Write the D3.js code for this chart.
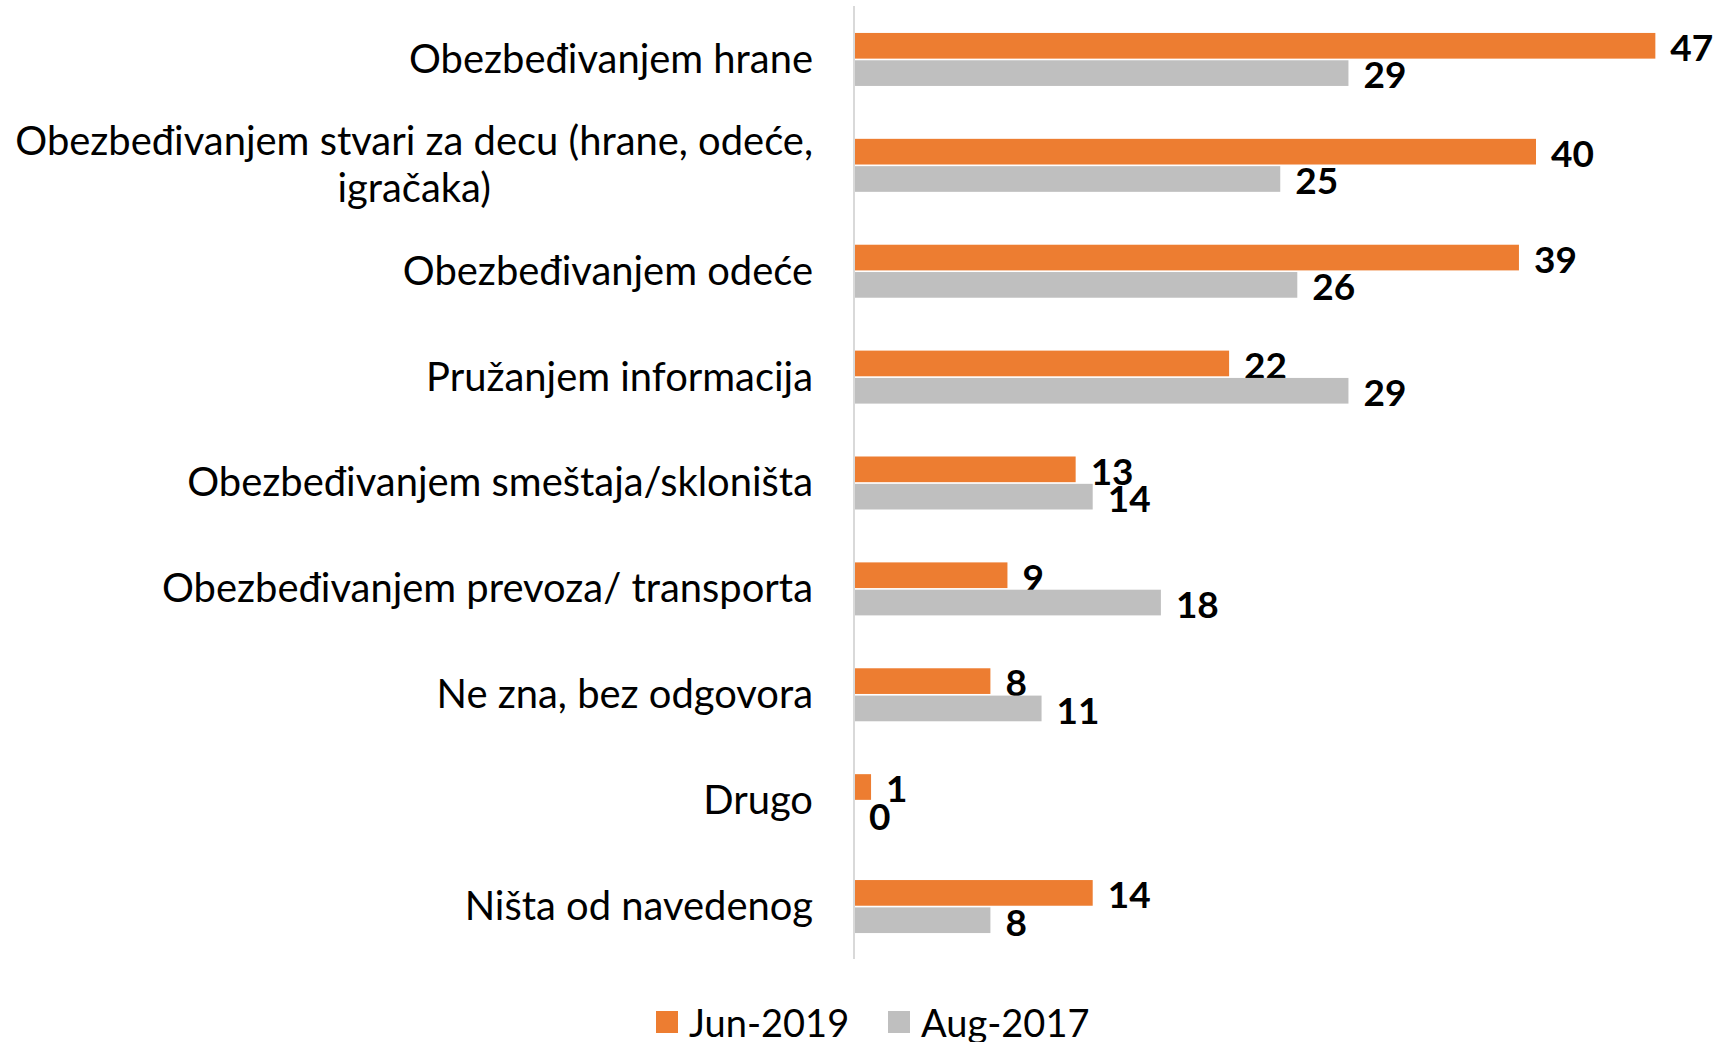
<!DOCTYPE html>
<html><head><meta charset="utf-8">
<script src="https://cdn.jsdelivr.net/npm/d3@7"></script>
<style>body{margin:0;background:#fff}svg{display:block}</style>
</head><body>
<script>
const categories = [
  ["Obezbeđivanjem hrane"],
  ["Obezbeđivanjem stvari za decu (hrane, odeće,", "igračaka)"],
  ["Obezbeđivanjem odeće"],
  ["Pružanjem informacija"],
  ["Obezbeđivanjem smeštaja/skloništa"],
  ["Obezbeđivanjem prevoza/ transporta"],
  ["Ne zna, bez odgovora"],
  ["Drugo"],
  ["Ništa od navedenog"]
];
const seriesNames = ["Jun-2019", "Aug-2017"];
const jun2019 = [47, 40, 39, 22, 13, 9, 8, 1, 14];
const aug2017 = [29, 25, 26, 29, 14, 18, 11, 0, 8];
const colors = ["#ED7D31", "#BFBFBF"];

const W = 1719, H = 1042;
const svg = d3.select("body").append("svg").attr("width", W).attr("height", H);
const font = "Lato, 'Noto Sans', sans-serif";

const x0 = 854;
const x = d3.scaleLinear().domain([0, 50]).range([x0, x0 + 852.5]);
const y = d3.scaleBand().domain(d3.range(categories.length)).range([6, 959]);
const sub = d3.scaleBand().domain([0, 1]).range([-26, 27]).paddingInner(0.06);

// axis line
svg.append("line").attr("x1", x0).attr("x2", x0).attr("y1", 6).attr("y2", 959)
  .attr("stroke", "#D9D9D9").attr("stroke-width", 2);

const series = [jun2019, aug2017];
series.forEach((vals, si) => {
  const g = svg.append("g");
  g.selectAll("rect").data(vals).join("rect")
    .attr("x", x0 + 1)
    .attr("y", (d, i) => y(i) + y.bandwidth() / 2 + sub(si))
    .attr("width", d => Math.max(0, x(d) - x0 - 1))
    .attr("height", sub.bandwidth())
    .attr("fill", colors[si]);
  g.selectAll("text").data(vals).join("text")
    .attr("x", d => x(d) + 15)
    .attr("y", (d, i) => y(i) + y.bandwidth() / 2 + sub(si) + sub.bandwidth() / 2 + 2)
    .attr("dy", "0.36em")
    .attr("font-family", font).attr("font-weight", "bold").attr("font-size", 37)
    .attr("fill", "#000")
    .text(d => d);
});

// category labels (font fitted so the widest line spans the reference width)
const labelRight = 813, targetW = 798;
const lab = svg.append("g").attr("font-family", font).attr("font-size", 33).attr("fill", "#000");
const texts = [];
categories.forEach((lines, i) => {
  const cy = y(i) + y.bandwidth() / 2;
  const lh = 47;
  const t = lab.append("text").attr("text-anchor", "middle");
  const tspans = lines.map((ln, k) => t.append("tspan").attr("y", cy + (k - (lines.length - 1) / 2) * lh).attr("dy", "0.35em").text(ln));
  texts.push(tspans);
});
let widest = 0;
texts.forEach(ts => ts.forEach(s => { widest = Math.max(widest, s.node().getComputedTextLength()); }));
const fs = 33 * targetW / widest;
lab.attr("font-size", fs);
texts.forEach(ts => {
  let maxW = 0;
  ts.forEach(s => { maxW = Math.max(maxW, s.node().getComputedTextLength()); });
  ts.forEach(s => s.attr("x", labelRight - maxW / 2));
});

// legend
const leg = svg.append("g").attr("font-family", font).attr("font-size", 38);
const legX = [656, 888];
seriesNames.forEach((n, i) => {
  leg.append("rect").attr("x", legX[i]).attr("y", 1011).attr("width", 22).attr("height", 22).attr("fill", colors[i]);
  leg.append("text").attr("x", legX[i] + 33).attr("y", 1023).attr("dy", "0.36em").text(n);
});
</script>
</body></html>
